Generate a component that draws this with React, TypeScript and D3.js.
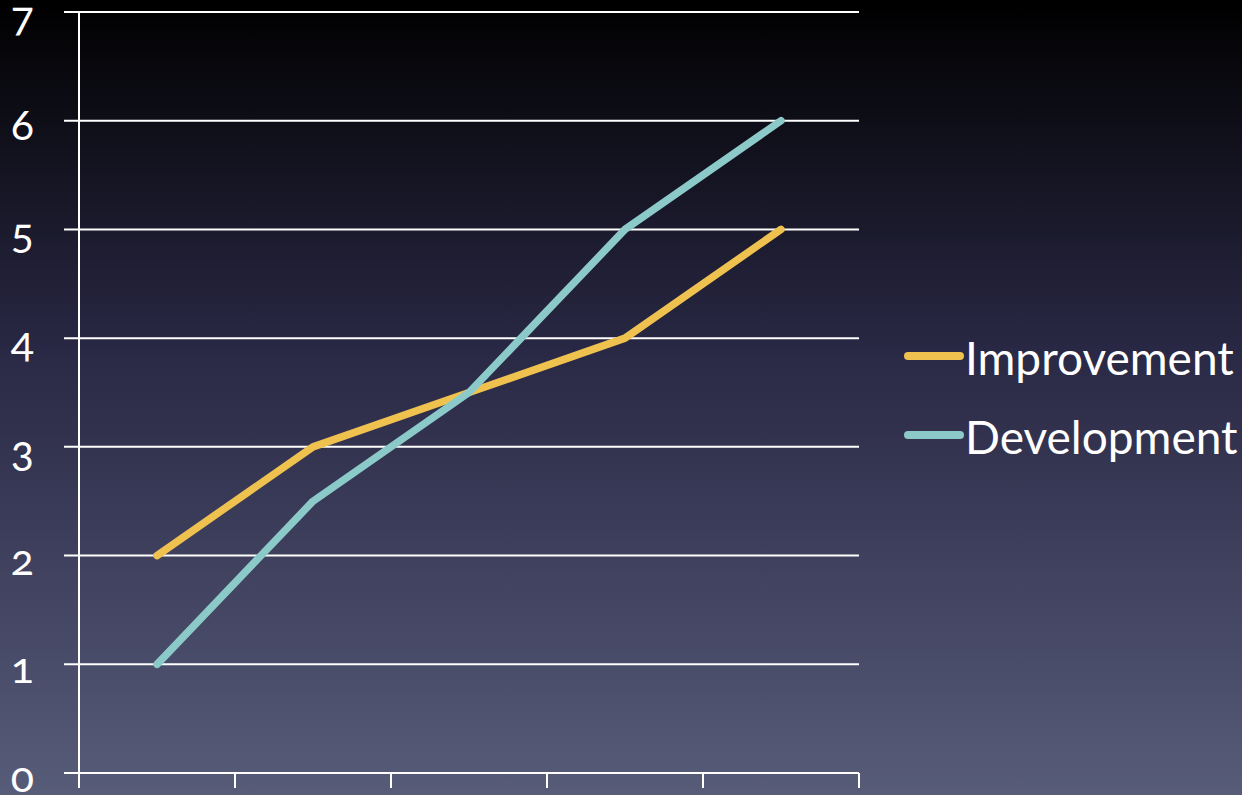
import React from "react";
import * as d3 from "d3";

const categories = ["C1", "C2", "C3", "C4", "C5"];
const improvement = [2, 3, 3.5, 4, 5];
const development = [1, 2.5, 3.5, 5, 6];
const yTicks = [0, 1, 2, 3, 4, 5, 6, 7];
const seriesNames = ["Improvement", "Development"];

const W = 1242;
const H = 795;

export default function App() {
  const x = d3.scaleBand<string>().domain(categories).range([79, 859]);
  const y = d3.scaleLinear().domain([0, 7]).range([773, 12]);
  const colors = ["#efc250", "#8ccaca"];
  const series = [improvement, development];
  const line = d3
    .line<number>()
    .x((_, i) => (x(categories[i]) as number) + x.bandwidth() / 2)
    .y((d) => y(d));
  const font = "Lato, 'Open Sans', sans-serif";
  const tickEdges = [...categories.map((c) => x(c) as number), 859];
  return (
    <svg
      width={W}
      height={H}
      style={{ position: "absolute", left: 0, top: 0, display: "block" }}
    >
      <defs>
        <linearGradient id="bg" x1="0" y1="0" x2="0" y2="1">
          <stop offset="0" stopColor="#000000" />
          <stop offset="0.45" stopColor="#2a2946" />
          <stop offset="1" stopColor="#575c78" />
        </linearGradient>
      </defs>
      <rect x={0} y={0} width={W} height={H} fill="url(#bg)" />
      {yTicks.map((t) => (
        <g key={t}>
          {t > 0 && (
            <line x1={64} x2={859} y1={y(t)} y2={y(t)} stroke="#ffffff" strokeWidth={2} />
          )}
          <text
            x={34}
            y={y(t) + 19}
            textAnchor="end"
            fill="#ffffff"
            fontSize={43}
            fontFamily={font}
            style={{ fontVariantNumeric: "oldstyle-nums" }}
          >
            {t}
          </text>
        </g>
      ))}
      <line x1={64} x2={859} y1={y(0)} y2={y(0)} stroke="#ffffff" strokeWidth={2} />
      <line x1={79} x2={79} y1={y(7)} y2={788} stroke="#ffffff" strokeWidth={2} />
      {tickEdges.slice(1).map((tx, i) => (
        <line key={i} x1={tx} x2={tx} y1={y(0)} y2={788} stroke="#ffffff" strokeWidth={2} />
      ))}
      {series.map((s, i) => (
        <path
          key={i}
          d={line(s) as string}
          fill="none"
          stroke={colors[i]}
          strokeWidth={7.5}
          strokeLinecap="round"
          strokeLinejoin="round"
        />
      ))}
      {seriesNames.map((n, i) => {
        const ly = 356 + i * 79;
        return (
          <g key={n}>
            <line x1={908} x2={960} y1={ly} y2={ly} stroke={colors[i]} strokeWidth={8} strokeLinecap="round" />
            <text x={965} y={ly + 19} fill="#ffffff" fontSize={46} fontFamily={font}>
              {n}
            </text>
          </g>
        );
      })}
    </svg>
  );
}
